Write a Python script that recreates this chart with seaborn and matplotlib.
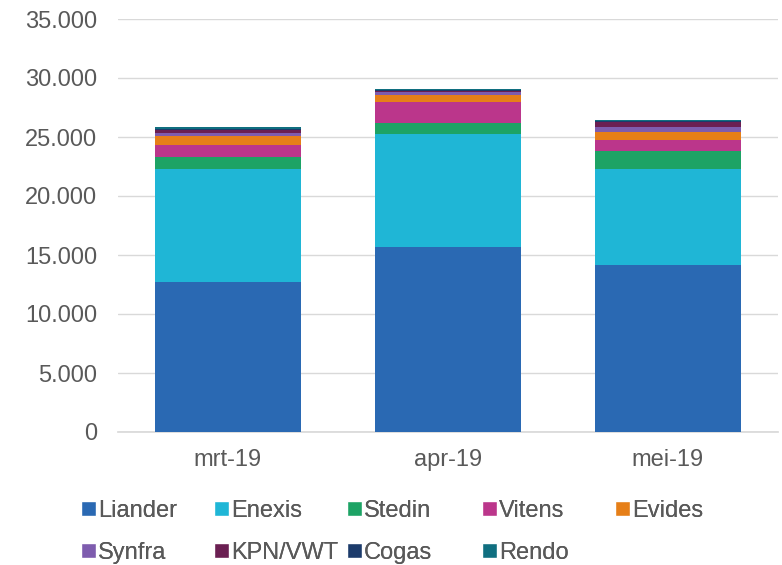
import matplotlib
import matplotlib.pyplot as plt
import numpy as np
import pandas as pd
import seaborn as sns
from matplotlib.patches import Patch
from matplotlib.ticker import FuncFormatter

matplotlib.use("Agg")

# Data
months = ["mrt-19", "apr-19", "mei-19"]
companies = ["Liander", "Enexis", "Stedin", "Vitens", "Evides",
             "Synfra", "KPN/VWT", "Cogas", "Rendo"]
liander = [12700, 15700, 14150]
enexis = [9600, 9550, 8150]
stedin = [1000, 960, 1550]
vitens = [1000, 1780, 900]
evides = [820, 590, 650]
synfra = [250, 250, 470]
kpn_vwt = [200, 100, 400]
cogas = [150, 80, 100]
rendo = [110, 80, 80]

colors = ["#2A69B3", "#1FB6D6", "#1DA365", "#BB368B", "#E67F18",
          "#7E5CAE", "#6B1F52", "#1C3B6B", "#106F80"]
TEXT = "#595959"
FS = 17

series = [liander, enexis, stedin, vitens, evides, synfra, kpn_vwt, cogas, rendo]
df = pd.DataFrame({"month": months})
for name, vals in zip(companies, series):
    df[name] = vals
cum = df[companies].cumsum(axis=1)

sns.set_theme(style="white")
plt.rcParams["font.family"] = ["Liberation Sans", "DejaVu Sans"]

W, H = 782, 565
fig = plt.figure(figsize=(W / 100, H / 100), dpi=100)
ax = fig.add_axes([118 / W, 1 - 432 / H, 660 / W, 413 / H])

# stack by overdrawing cumulative totals, top layer first
for name, color in reversed(list(zip(companies, colors))):
    sns.barplot(x=df["month"], y=cum[name], color=color, width=0.66,
                linewidth=0, saturation=1, ax=ax, zorder=3)

ax.set_ylim(0, 35000)
ax.set_yticks(np.arange(0, 35001, 5000))
ax.yaxis.set_major_formatter(FuncFormatter(lambda v, p: f"{int(v):,}".replace(",", ".")))
ax.grid(axis="y", color="#D9D9D9", linewidth=1, zorder=0)
ax.set_axisbelow(True)
for s in ["top", "right", "left"]:
    ax.spines[s].set_visible(False)
ax.spines["bottom"].set_color("#D9D9D9")
ax.tick_params(axis="both", length=0, labelsize=FS, colors=TEXT)
ax.tick_params(axis="y", pad=15)
ax.tick_params(axis="x", pad=12)
ax.set_xlabel("")
ax.set_ylabel("")

# legend laid out on a fixed grid, like the original
col_x = [81, 214, 347, 482, 615]
row_y = [511, 553]
for i, (name, color) in enumerate(zip(companies, colors)):
    x, y = col_x[i % 5], row_y[i // 5]
    leg = fig.legend(handles=[Patch(facecolor=color, label=name)],
                     loc="center left", bbox_to_anchor=(x / W, 1 - y / H),
                     frameon=False, fontsize=FS, handlelength=0.62,
                     handleheight=0.62, handletextpad=0.1, labelcolor=TEXT,
                     borderpad=0, borderaxespad=0)
    fig.add_artist(leg)

fig.savefig("out.png", dpi=100)
